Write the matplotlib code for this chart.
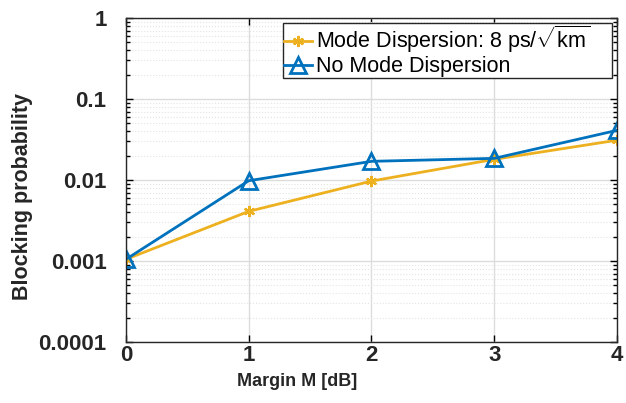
import numpy as np
import matplotlib.pyplot as plt
from matplotlib.ticker import LogLocator, FixedLocator, FixedFormatter

plt.rcParams['font.family'] = ['Liberation Sans', 'DejaVu Sans']
plt.rcParams['mathtext.fontset'] = 'custom'
plt.rcParams['mathtext.rm'] = 'Liberation Sans'

margin = [0, 1, 2, 3, 4]
with_disp = [0.00105, 0.0041, 0.0097, 0.018, 0.031]
no_disp = [0.00105, 0.0098, 0.017, 0.0185, 0.041]
ytick_vals = [0.0001, 0.001, 0.01, 0.1, 1]
ytick_labels = ['0.0001', '0.001', '0.01', '0.1', '1']

fig = plt.figure(figsize=(6.26, 4.03), dpi=100)
ax = fig.add_axes([0.2013, 0.1514, 0.7843, 0.8039])

ax.plot(margin, with_disp, color='#EDB120', linewidth=2, marker=(6, 2, 0),
        markersize=8, markeredgewidth=1.6, label=r'Mode Dispersion: 8 ps/$\sqrt{\mathrm{km}}$')
ax.plot(margin, no_disp, color='#0072BD', linewidth=2, marker='^',
        markersize=11, markerfacecolor='none', markeredgewidth=2, label='No Mode Dispersion')

ax.set_yscale('log')
ax.set_xlim(0, 4)
ax.set_ylim(1e-4, 1)
ax.set_xticks(margin)
ax.yaxis.set_major_locator(FixedLocator(ytick_vals))
ax.yaxis.set_major_formatter(FixedFormatter(ytick_labels))
ax.yaxis.set_minor_locator(LogLocator(base=10, subs=np.arange(2, 10), numticks=20))

ax.grid(True, which='major', color='#dcdcdc', linewidth=1)
ax.grid(True, which='minor', axis='y', color='#e4e4e4', linestyle=':', linewidth=0.8)
ax.tick_params(which='both', direction='in', top=True, right=True, width=1,
               labelcolor='#262626')
ax.tick_params(which='major', length=5, labelsize=16)
ax.tick_params(axis='x', which='major', pad=2)
ax.tick_params(axis='y', which='major', pad=14)
ax.tick_params(which='minor', length=3)
for lbl in ax.get_xticklabels() + ax.get_yticklabels():
    lbl.set_fontweight('bold')
for s in ax.spines.values():
    s.set_color('#262626')
    s.set_linewidth(1)

ax.set_xlabel('Margin M [dB]', fontsize=13, fontweight='bold', color='#262626')
ax.xaxis.set_label_coords(0.348, -0.095)
ax.set_ylabel('Blocking probability', fontsize=15.5, fontweight='bold', color='#262626')
ax.yaxis.set_label_coords(-0.19, 0.448)

leg = ax.legend(loc='upper left', bbox_to_anchor=(0.32, 0.0, 0.67, 0.985), mode='expand',
                fontsize=15.5, fancybox=False, edgecolor='#262626',
                framealpha=1, handlelength=1.3, handletextpad=0.2, borderpad=0.05,
                labelspacing=0.05, borderaxespad=0)
leg.get_frame().set_linewidth(1)

fig.savefig('out.png', dpi=100)
